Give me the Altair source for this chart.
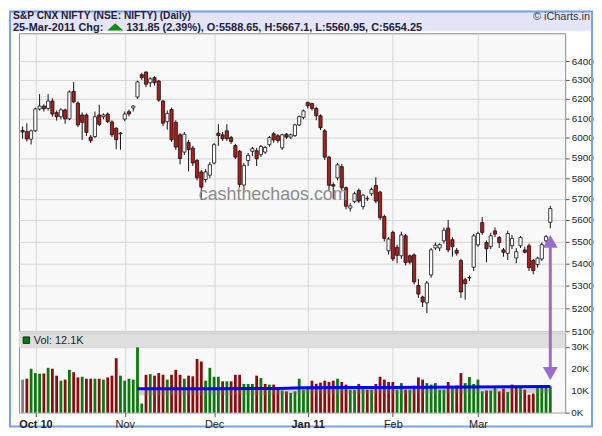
import json
import altair as alt
import pandas as pd

# ---------------- data ----------------
opens = [6038, 6032, 5994, 6036, 6148, 6163, 6151, 6189, 6129, 6108,
         6143, 6097, 6240, 6178, 6117, 6117, 6004, 6007, 6117, 6108,
         6122, 6081, 6049, 6021, 6096, 6134, 6153, 6210, 6328, 6342,
         6285, 6312, 6294, 6189, 6083, 6145, 6079, 6016, 5929, 5977,
         5949, 5887, 5831, 5794, 5815, 5875, 6024, 6016, 6036, 6002,
         5962, 5933, 5767, 5887, 5933, 5936, 5916, 5929, 5966, 6021,
         6011, 5950, 6019, 6004, 6012, 6066, 6105, 6182, 6176, 6151,
         6113, 6036, 5904, 5769, 5802, 5857, 5754, 5656, 5688, 5741,
         5664, 5701, 5725, 5765, 5733, 5616, 5457, 5542, 5473, 5434,
         5526, 5434, 5438, 5300, 5249, 5223, 5347, 5470, 5470, 5503,
         5562, 5508, 5459, 5412, 5326, 5334, 5382, 5484, 5588, 5495,
         5476, 5549, 5518, 5461, 5445, 5480, 5424, 5480, 5461, 5480,
         5412, 5394, 5420, 5503, 5588.65]
highs = [6058, 6074, 6042, 6155, 6225, 6172, 6225, 6203, 6140, 6152,
         6150, 6245, 6289, 6188, 6130, 6125, 6015, 6135, 6170, 6125,
         6130, 6090, 6055, 6030, 6135, 6145, 6168, 6296, 6338, 6345,
         6315, 6320, 6300, 6195, 6140, 6155, 6090, 6025, 6030, 5990,
         5960, 5895, 5840, 5845, 5880, 5975, 6070, 6030, 6070, 6010,
         5970, 5940, 5875, 5925, 5955, 5950, 5965, 5960, 6010, 6030,
         6020, 6022, 6025, 6022, 6072, 6115, 6145, 6185, 6180, 6160,
         6120, 6045, 5910, 5780, 5875, 5870, 5760, 5680, 5735, 5750,
         5725, 5715, 5755, 5805, 5740, 5625, 5520, 5550, 5485, 5545,
         5535, 5440, 5445, 5330, 5255, 5320, 5470, 5495, 5492, 5565,
         5600, 5520, 5470, 5420, 5335, 5345, 5535, 5545, 5614, 5505,
         5540, 5565, 5525, 5470, 5550, 5530, 5470, 5525, 5475, 5490,
         5420, 5430, 5495, 5530, 5667.1]
lows = [5997, 5982, 5967, 6030, 6140, 6135, 6140, 6108, 6088, 6095,
        6072, 6090, 6178, 6055, 5990, 6010, 5975, 6000, 6060, 6095,
        6075, 6005, 5943, 5941, 6085, 6110, 6135, 6200, 6300, 6262,
        6262, 6270, 6185, 6060, 6042, 5980, 5940, 5868, 5915, 5834,
        5860, 5790, 5695, 5780, 5800, 5868, 5960, 5985, 5985, 5970,
        5895, 5755, 5740, 5860, 5910, 5860, 5905, 5920, 5955, 5975,
        5975, 5940, 5995, 5995, 6005, 6060, 6095, 6150, 6140, 6090,
        6040, 5890, 5740, 5700, 5790, 5740, 5650, 5640, 5680, 5680,
        5650, 5690, 5715, 5680, 5600, 5500, 5440, 5410, 5400, 5420,
        5390, 5395, 5305, 5245, 5205, 5178, 5335, 5460, 5455, 5490,
        5450, 5430, 5435, 5245, 5237, 5320, 5365, 5475, 5530, 5405,
        5465, 5520, 5470, 5430, 5415, 5465, 5400, 5470, 5445, 5365,
        5350, 5380, 5410, 5495, 5560.95]
closes = [6030, 5995, 6036, 6148, 6163, 6149, 6189, 6122, 6108, 6143,
          6097, 6237, 6185, 6066, 6079, 6028, 5986, 6108, 6069, 6117,
          6083, 6016, 5991, 6024, 6122, 6122, 6163, 6289, 6312, 6277,
          6306, 6285, 6194, 6075, 6125, 5991, 5954, 5897, 6019, 5941,
          5875, 5802, 5757, 5831, 5867, 5966, 6012, 5996, 5996, 5982,
          5904, 5770, 5863, 5913, 5946, 5896, 5957, 5952, 6003, 5990,
          5987, 6016, 6004, 6016, 6066, 6108, 6138, 6165, 6151, 6113,
          6052, 5904, 5766, 5762, 5866, 5754, 5665, 5667, 5725, 5690,
          5718, 5702, 5746, 5690, 5611, 5514, 5511, 5420, 5436, 5530,
          5403, 5405, 5316, 5262, 5227, 5311, 5461, 5483, 5485, 5552,
          5461, 5476, 5446, 5271, 5308, 5336, 5526, 5537, 5542, 5466,
          5526, 5534, 5495, 5450, 5537, 5514, 5453, 5518, 5450, 5380,
          5367, 5423, 5485, 5522, 5654.25]
volumes = [15.2, 15.6, 20.2, 18.2, 17.9, 18.0, 20.6, 20.2, 17.0, 14.7,
           15.2, 19.7, 18.6, 16.2, 16.5, 15.6, 15.6, 15.6, 15.6, 15.2,
           16.2, 17.0, 25.0, 17.0, 14.7, 15.6, 15.2, 30.0, 4.2, 17.4,
           17.7, 17.0, 18.2, 17.4, 15.2, 17.4, 19.7, 17.4, 15.6, 17.0,
           16.7, 24.7, 23.5, 14.7, 20.6, 16.5, 16.5, 14.4, 14.4, 14.4,
           17.4, 17.4, 13.2, 13.2, 13.2, 17.0, 15.9, 13.2, 12.9, 12.9,
           11.4, 10.2, 9.8, 9.1, 9.8, 15.6, 10.6, 10.9, 14.7, 13.3,
           13.8, 14.7, 14.1, 14.7, 15.6, 14.1, 12.9, 10.6, 10.6, 13.2,
           11.7, 10.6, 10.6, 13.2, 16.5, 15.2, 14.1, 14.1, 10.6, 13.6,
           10.6, 10.6, 12.4, 16.2, 15.2, 13.6, 12.9, 13.6, 10.6, 10.6,
           14.1, 12.1, 12.4, 18.2, 13.6, 16.4, 13.2, 15.2, 9.8, 10.2,
           10.2, 11.4, 9.8, 11.1, 9.5, 12.9, 11.4, 12.1, 10.6, 8.3,
           8.8, 11.4, 11.4, 12.1, 12.1]
ma_idx = [27, 45, 60, 66, 75, 85, 95, 105, 115, 124]
ma_val = [11.0, 11.0, 11.1, 11.5, 11.6, 11.6, 11.7, 11.8, 11.9, 12.0]

month_idx = [3, 24, 45, 67, 87, 107]
month_labels = ["Oct 10", "Nov", "Dec", "Jan 11", "Feb", "Mar"]
bold_months = [3, 67]
price_ticks = [5100, 5200, 5300, 5400, 5500, 5600, 5700, 5800, 5900, 6000,
               6100, 6200, 6300, 6400]
vol_ticks = [0, 10, 20, 30]
vol_tick_labels = ["0K", "10K", "20K", "30K"]

title_line1 = "S&P CNX NIFTY (NSE: NIFTY) (Daily)"
title_line2a = "25-Mar-2011 Chg:"
title_line2b = "131.85 (2.39%), O:5588.65, H:5667.1, L:5560.95, C:5654.25"
logo_text = "\u00a9 iCharts.in"
vol_text = "Vol: 12.1K"
watermark = "cashthechaos.com"
arrow_at = [124]

# ---------------- frames ----------------
n = len(closes)
df = pd.DataFrame({"i": list(range(n)), "open": opens, "high": highs,
                   "low": lows, "close": closes, "vol": volumes})
df["dir"] = ["up" if c >= o else "down" for o, c in zip(opens, closes)]
df["vdir"] = ["flat"] + ["vup" if closes[k] >= closes[k - 1] else "vdown"
                         for k in range(1, n)]
ma_df = pd.DataFrame({"i": ma_idx, "ma": ma_val})
vt_df = pd.DataFrame({"v": vol_ticks, "t": vol_tick_labels})
one = pd.DataFrame({"a": [0]})
arrow_df = pd.DataFrame({"i": arrow_at})

FONT = "Liberation Sans"
GRID = "#d6d6d6"
TXT = "#22223a"
PURPLE = "#9a6ccf"

xscale = alt.Scale(domain=[-0.86, 127.5], nice=False, zero=False, padding=0)
pscale = alt.Scale(type="log", domain=[5100, 6552], nice=False, padding=0)
vscale = alt.Scale(domain=[0, 36.5], nice=False, zero=False, padding=0)

# ---------------- price panel ----------------
x_price = alt.X("i:Q", scale=xscale,
                axis=alt.Axis(values=month_idx, grid=True, labels=False,
                              ticks=False, domain=False, title=None,
                              gridColor=GRID))
base = alt.Chart(df)
wicks = base.mark_rule(color="#111111", strokeWidth=1).encode(
    x=x_price,
    y=alt.Y("low:Q", scale=pscale,
            axis=alt.Axis(orient="right", values=price_ticks, format="d",
                          title=None, grid=True, gridColor=GRID, tickSize=4,
                          tickColor="#555555", labelFontSize=10,
                          labelPadding=2, domain=False, labelOverlap=False)),
    y2="high:Q",
)
bodies = base.mark_bar(size=3.2, stroke="#111111", strokeWidth=0.8).encode(
    x=alt.X("i:Q", scale=xscale),
    y=alt.Y("open:Q", scale=pscale),
    y2="close:Q",
    color=alt.Color("dir:N", scale=alt.Scale(domain=["up", "down"],
                                             range=["#ffffff", "#b01c1c"]),
                    legend=None),
)

hdr_rect = alt.Chart(one).mark_rect(fill="#e4e4f7").encode(
    x=alt.value(-10), x2=alt.value(578), y=alt.value(-23), y2=alt.value(-2))
frame = alt.Chart(one).mark_rect(fillOpacity=0, stroke="#7aa3e3",
                                 strokeWidth=2).encode(
    x=alt.value(-9), x2=alt.value(577), y=alt.value(-22), y2=alt.value(396))
t1 = alt.Chart(pd.DataFrame({"t": [title_line1]})).mark_text(
    align="left", baseline="top", font=FONT, fontSize=10.3,
    fontWeight="bold", color=TXT).encode(
    text="t:N", x=alt.value(-6), y=alt.value(-22.5))
t2 = alt.Chart(pd.DataFrame({"t": [title_line2a]})).mark_text(
    align="left", baseline="top", font=FONT, fontSize=11,
    fontWeight="bold", color=TXT).encode(
    text="t:N", x=alt.value(-6), y=alt.value(-11.5))
tri = alt.Chart(one).mark_point(
    shape="M -1 0.45 L 0 -0.45 L 1 0.45 Z", size=256, filled=True,
    color="#138a13", opacity=1).encode(x=alt.value(97), y=alt.value(-6.5))
t3 = alt.Chart(pd.DataFrame({"t": [title_line2b]})).mark_text(
    align="left", baseline="top", font=FONT, fontSize=11,
    fontWeight="bold", color=TXT).encode(
    text="t:N", x=alt.value(108), y=alt.value(-11.5))
logo = alt.Chart(pd.DataFrame({"t": [logo_text]})).mark_text(
    align="right", baseline="top", font=FONT, fontSize=11,
    color="#333344").encode(text="t:N", x=alt.value(575), y=alt.value(-22.5))
wm = alt.Chart(pd.DataFrame({"t": [watermark]})).mark_text(
    align="center", baseline="middle", font=FONT, fontSize=18,
    color="#8c8c8c").encode(text="t:N", x=alt.value(256), y=alt.value(163))

price = alt.layer(wicks, bodies, hdr_rect, frame, t1, t2, tri, t3, logo,
                  wm).properties(width=550, height=300)

# ---------------- volume panel ----------------
label_expr = "{}[indexof({}, datum.value)]".format(
    json.dumps(month_labels), json.dumps(month_idx))
bold_test = " || ".join("datum.value == {}".format(b) for b in bold_months)
x_vol = alt.X("i:Q", scale=xscale,
              axis=alt.Axis(values=month_idx, grid=True, gridColor=GRID,
                            labelExpr=label_expr, title=None, tickSize=4,
                            tickColor="#555555", labelFontSize=11,
                            labelFontWeight={"condition": {"test": bold_test,
                                                           "value": "bold"},
                                             "value": "normal"},
                            labelPadding=2, domain=False))
band = alt.Chart(one).mark_rect(fill="#dedede").encode(
    x=alt.value(0), x2=alt.value(550), y=alt.value(0), y2=alt.value(14))
vbars = base.mark_bar(size=2.8).encode(
    x=x_vol,
    y=alt.Y("vol:Q", scale=vscale,
            axis=alt.Axis(orient="right", values=vol_ticks, labels=False,
                          title=None, grid=True, gridColor=GRID, tickSize=4,
                          tickColor="#555555", domain=False)),
    color=alt.Color("vdir:N", scale=alt.Scale(domain=["flat", "vup", "vdown"],
                                              range=["#808080", "#0b780b",
                                                     "#8a0c0c"]),
                    legend=None),
)
vlabels = alt.Chart(vt_df).mark_text(
    align="left", baseline="middle", font=FONT, fontSize=10,
    color="#222222").encode(
    text="t:N", x=alt.value(556), y=alt.Y("v:Q", scale=vscale))
ma_shadow = alt.Chart(ma_df).mark_line(color="#777777", strokeWidth=5,
                                       opacity=0.3, yOffset=4).encode(
    x=alt.X("i:Q", scale=xscale), y=alt.Y("ma:Q", scale=vscale))
ma_line = alt.Chart(ma_df).mark_line(color="#0000ff", strokeWidth=3).encode(
    x=alt.X("i:Q", scale=xscale), y=alt.Y("ma:Q", scale=vscale))
leg_sq = alt.Chart(one).mark_square(size=42, color="#0b780b", stroke="#222222",
                                    strokeWidth=1, opacity=1).encode(
    x=alt.value(7.5), y=alt.value(7))
leg_tx = alt.Chart(pd.DataFrame({"t": [vol_text]})).mark_text(
    align="left", baseline="middle", font=FONT, fontSize=11,
    color="#222222").encode(text="t:N", x=alt.value(15), y=alt.value(7.5))
shaft = alt.Chart(arrow_df).mark_rule(color=PURPLE, strokeWidth=3).encode(
    x=alt.X("i:Q", scale=xscale), y=alt.value(-87), y2=alt.value(35))
head_up = alt.Chart(arrow_df).mark_point(shape="triangle-up", size=225,
                                         filled=True, color=PURPLE,
                                         opacity=1).encode(
    x=alt.X("i:Q", scale=xscale), y=alt.value(-92.5))
head_dn = alt.Chart(arrow_df).mark_point(shape="triangle-down", size=225,
                                         filled=True, color=PURPLE,
                                         opacity=1).encode(
    x=alt.X("i:Q", scale=xscale), y=alt.value(40.5))

volume = alt.layer(band, vbars, vlabels, ma_shadow, ma_line, leg_sq, leg_tx,
                   shaft, head_up, head_dn).properties(width=550, height=80)

chart = alt.vconcat(price, volume, spacing=2, bounds="flush").resolve_scale(
    y="independent", color="independent"
).properties(
    padding=0, background="white"
).configure_view(stroke="#8a8a8a", fill="#f8f8f8").configure_axis(
    labelFont=FONT, labelColor="#222222"
)

chart.save("out.html", embed_options={"renderer": "svg", "actions": False})
